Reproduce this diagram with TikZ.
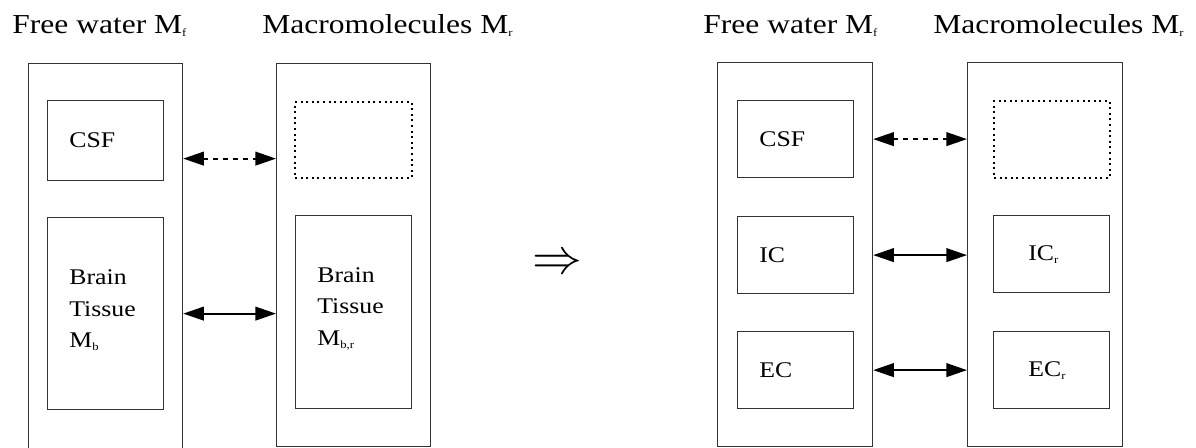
\documentclass[tikz,border=0pt]{standalone}
\usepackage{fontspec}
\setmainfont{Liberation Serif}[FakeStretch=1.15]
\usepackage{tikz}
\usetikzlibrary{arrows.meta,positioning}

\newcommand{\sbs}[1]{\raisebox{-1.5pt}{\fontsize{5.5}{6}\selectfont #1}}

\begin{document}
\begin{tikzpicture}[x=0.5pt, y=-0.5pt,
  every node/.style={font=\fontsize{11.2}{15.75}\selectfont},
  outer/.style={draw=black!80, line width=0.6pt, minimum width=77pt, anchor=north west, inner sep=0},
  inbox/.style={draw=black!80, line width=0.6pt, minimum width=58pt, minimum height=38.5pt, anchor=north west, inner sep=0},
  dotbox/.style={inbox, draw=black, line width=1pt, dash pattern=on 1pt off 1.8pt},
  txt/.style={inner sep=0, align=left},
  head/.style={anchor=base west, inner sep=0, font=\fontsize{13.7}{16}\selectfont},
  flow/.style={line width=1pt, {Triangle[length=10.3pt,width=6.8pt]}-{Triangle[length=10.3pt,width=6.8pt]}},
  dotflow/.style={flow, dash pattern=on 2.2pt off 2.8pt}]
  \useasboundingbox (0,0) rectangle (1196,447);
  % left: two pools
  \node[head] (tfL) at (12,33) {Free water M\sbs{f}};
  \node[head] (tmL) at (262,33) {Macromolecules M\sbs{r}};
  \node[outer, minimum height=200pt] (freeL) at (28,63) {};
  \node[outer, minimum height=191.5pt] (macroL) at (276,63) {};
  \node[inbox, minimum height=40pt] (csfL) at (47,100) {};
  \node[inbox, minimum height=96pt] (brainL) at (47,217) {};
  \node[dotbox, minimum width=58.5pt, minimum height=38pt] (voidL) at (294,101) {};
  \node[inbox, minimum height=96.5pt] (brainrL) at (295,215) {};
  \node[txt, right=11pt of csfL.west] (csfLt) {CSF};
  \node[txt, right=11pt of brainL.west, yshift=1.6pt] (brainLt) {Brain\\Tissue\\M\sbs{b}};
  \node[txt, right=11pt of brainrL.west, yshift=1.6pt] (brainrLt) {Brain\\Tissue\\M\sbs{b,r}};
  \coordinate (lvlL) at ([yshift=-9pt]csfL.center);
  \draw[dotflow] (freeL.east |- lvlL) -- (macroL.west |- lvlL);
  \draw[flow] (freeL.east |- brainL) -- (macroL.west |- brainL);
  % implies
  \node[font=\fontsize{24.88}{26}\selectfont] (impl) at (557,264) {$\Rightarrow$};
  % right: split tissue
  \node[head] (tfR) at (703,33) {Free water M\sbs{f}};
  \node[head] (tmR) at (933,33) {Macromolecules M\sbs{r}};
  \node[outer, minimum width=77.5pt, minimum height=192pt] (freeR) at (717,62) {};
  \node[outer, minimum width=77.5pt, minimum height=192pt] (macroR) at (967,62) {};
  \node[inbox] (csfR) at (737,100) {};
  \node[inbox] (icR) at (737,216) {};
  \node[inbox] (ecR) at (737,331) {};
  \node[dotbox] (voidR) at (993,100) {};
  \node[inbox] (icrR) at (993,215) {};
  \node[inbox] (ecrR) at (993,331) {};
  \node[txt, right=11pt of csfR.west] (csfRt) {CSF};
  \node[txt, right=11pt of icR.west] (icRt) {IC};
  \node[txt, right=11pt of ecR.west] (ecRt) {EC};
  \node[txt, right=17.5pt of icrR.west] (icrRt) {IC\sbs{r}};
  \node[txt, right=17.5pt of ecrR.west] (ecrRt) {EC\sbs{r}};
  \draw[dotflow] (freeR.east |- csfR) -- (macroR.west |- csfR);
  \draw[flow] (freeR.east |- icR) -- (macroR.west |- icR);
  \draw[flow] (freeR.east |- ecR) -- (macroR.west |- ecR);
\end{tikzpicture}
\end{document}
